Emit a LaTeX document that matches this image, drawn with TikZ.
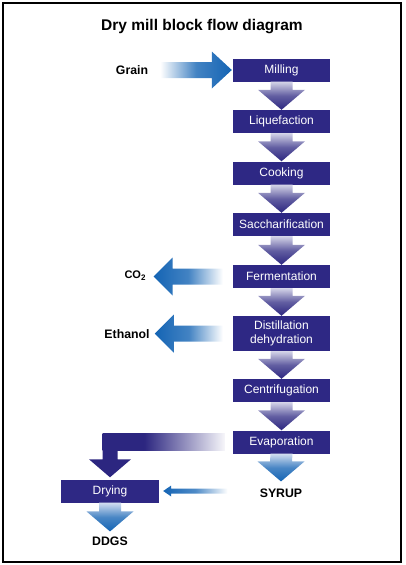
\documentclass[tikz,border=0pt]{standalone}
\usepackage{fontspec}
\setmainfont{Liberation Sans}
\usetikzlibrary{calc}
\definecolor{boxc}{RGB}{46,40,132}
\definecolor{lav}{RGB}{212,212,232}
\definecolor{pdark}{RGB}{44,38,128}
\definecolor{blu}{RGB}{20,100,180}
\definecolor{lblu}{RGB}{210,222,240}
\colorlet{fadeend}{white!96!pdark}
\pgfdeclarehorizontalshading{bandfade}{100bp}{color(0bp)=(pdark); color(25bp)=(pdark); color(42bp)=(pdark); color(75bp)=(fadeend); color(100bp)=(fadeend)}
\newcommand\blkdown[3][]{%
  \path[#1] ($(#2)+(-11,0)$) -- ($(#2)+(11,0)$) -- ($(#3)+(11,-20)$) -- ($(#3)+(23.5,-20)$) -- (#3) -- ($(#3)+(-23.5,-20)$) -- ($(#3)+(-11,-20)$) -- cycle;}
% left block arrow: #2 box, #3 label, #4 gap from label
\newcommand\blkleft[4][]{%
  \path[#1] ($(#2.west)+(-10,-8)$) -- ($(#3.east |- #2.west)+(#4+19,-8)$) -- ($(#3.east |- #2.west)+(#4+19,-19)$) -- ($(#3.east |- #2.west)+(#4,0)$) -- ($(#3.east |- #2.west)+(#4+19,19)$) -- ($(#3.east |- #2.west)+(#4+19,8)$) -- ($(#2.west)+(-10,8)$) -- cycle;}
% right block arrow: #2 label, #3 box, #4 gap from label
\newcommand\blkright[4][]{%
  \path[#1] ($(#2.east |- #3.west)+(#4,-8)$) -- ($(#3.west)+(-21,-8)$) -- ($(#3.west)+(-21,-18.5)$) -- ($(#3.west)+(-1,0)$) -- ($(#3.west)+(-21,18.5)$) -- ($(#3.west)+(-21,8)$) -- ($(#2.east |- #3.west)+(#4,8)$) -- cycle;}
\begin{document}
\begin{tikzpicture}[x=1pt,y=-1pt,
  proc/.style={fill=boxc, text=white, minimum width=97pt, minimum height=23pt, inner sep=0pt, font=\fontsize{12}{14.5}\selectfont, align=center},
  lbl/.style={font=\bfseries\fontsize{12.3}{14}\selectfont, inner sep=2pt},
  darr/.style={top color=lav, bottom color=pdark, middle color=pdark!68!lav},
  barr/.style={top color=lblu, bottom color=blu, middle color=blu!72!lblu},
  rarr/.style={left color=white, right color=blu, middle color=blu!80!white},
  larr/.style={left color=blu, right color=white, middle color=blu!80!white},
  thinarr/.style={left color=blu, right color=white, middle color=blu!75!white},
]
\useasboundingbox (0,0) rectangle (405,565);
\draw[line width=2pt] (3,3) rectangle (401,562);

\node[font=\bfseries\fontsize{15.5}{18}\selectfont] (title) at (202,27) {Dry mill block flow diagram};

\node[proc] (mill) at (281.5,70) {Milling};
\node[proc] (liq) at (281.5,121.5) {Liquefaction};
\node[proc] (cook) at (281.5,173) {Cooking};
\node[proc] (sacc) at (281.5,224.5) {Saccharification};
\node[proc] (ferm) at (281.5,276.5) {Fermentation};
\node[proc, minimum height=35pt] (dist) at (281.5,333.5) {Distillation\\dehydration};
\node[proc] (cent) at (281.5,390.5) {Centrifugation};
\node[proc] (evap) at (281.5,442) {Evaporation};
\node[proc, minimum width=98pt] (dry) at (110,491) {Drying};

\node[lbl] (grain) at (132,70) {Grain};
\node[lbl, font=\bfseries\fontsize{11}{13}\selectfont] (co2) at (135,276) {CO\raisebox{-0.35ex}{\fontsize{8}{9}\selectfont 2}};
\node[lbl] (eth) at (127,334) {Ethanol};
\node[lbl] (syrup) at (281,493) {SYRUP};
\node[lbl] (ddgs) at (110,541) {DDGS};

\coordinate (syrupin) at ($(syrup.north)+(0,-5)$);
\coordinate (ddgsin) at ($(ddgs.north)+(0,-3)$);

% main vertical arrows
\blkdown[darr]{mill.south}{liq.north}
\blkdown[darr]{liq.south}{cook.north}
\blkdown[darr]{cook.south}{sacc.north}
\blkdown[darr]{sacc.south}{ferm.north}
\blkdown[darr]{ferm.south}{dist.north}
\blkdown[darr]{dist.south}{cent.north}
\blkdown[darr]{cent.south}{evap.north}
\blkdown[barr]{evap.south}{syrupin}
\blkdown[barr]{dry.south}{ddgsin}

% side arrows
\blkright[rarr]{grain}{mill}{10}
\blkleft[larr]{ferm}{co2}{6}
\blkleft[larr]{dist}{eth}{3}

% evaporation -> drying bent arrow
\path[fill=pdark] ($(dry.north |- evap.west)+(-7.5,-8.5)$) -- ($(dry.north |- evap.west)+(7.5,-8.5)$) -- ($(dry.north)+(7.5,-20)$) -- ($(dry.north)+(21,-20)$) -- ($(dry.north)+(0,-2)$) -- ($(dry.north)+(-21,-20)$) -- ($(dry.north)+(-7.5,-20)$) -- cycle;
\path[shading=bandfade] ($(dry.north |- evap.west)+(-7.5,-8.5)$) rectangle ($(evap.west)+(-8,8.5)$);

% syrup -> drying thin arrow
\path[thinarr] ($(syrup.west |- dry.east)+(-30,-2.5)$) -- ($(dry.east)+(12,-2.5)$) -- ($(dry.east)+(12,-5.5)$) -- ($(dry.east)+(4,0)$) -- ($(dry.east)+(12,5.5)$) -- ($(dry.east)+(12,2.5)$) -- ($(syrup.west |- dry.east)+(-30,2.5)$) -- cycle;
\end{tikzpicture}
\end{document}
